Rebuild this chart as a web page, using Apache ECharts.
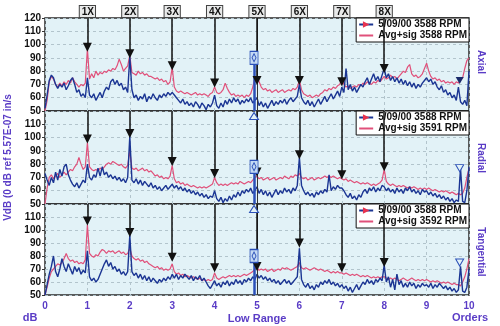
<!DOCTYPE html>
<html><head><meta charset="utf-8">
<script src="https://cdn.jsdelivr.net/npm/echarts@6/dist/echarts.min.js"></script>
<style>html,body{margin:0;padding:0;background:#fff}#c{width:500px;height:326px}</style>
</head><body><div id="c"></div>
<script>
// ---------- data ----------
const orderStep = 0.05;
const xTickLabels = ['0','1','2','3','4','5','6','7','8','9','10'];
const harmonicLabels = ['1X','2X','3X','4X','5X','6X','7X','8X'];
const panelNames = ['Axial','Radial','Tangential'];
const blueName = '5/09/00 3588 RPM';
const pinkNames = ['Avg+sig 3588 RPM','Avg+sig 3591 RPM','Avg+sig 3592 RPM'];

const axialBlue = [
52,62,73,77,75,70,67,70,68,71,66,69,73,75,70,64,66,61,63,60,
75,62,60,63,58,61,64,60,65,68,66,72,74,70,73,69,71,66,68,64,
91,66,60,62,58,61,59,63,57,61,59,63,60,58,62,60,63,61,64,62,
64,62,60,58,56,59,55,57,54,56,53,57,55,52,56,54,51,55,53,56,
62,54,52,56,53,58,55,59,56,60,57,59,55,58,56,59,57,60,56,58,
60,54,57,53,56,52,55,58,54,57,55,58,56,59,55,58,60,57,59,61,
70,60,57,55,58,54,57,53,56,59,55,58,61,57,60,63,59,62,65,61,
68,64,82,66,70,65,68,64,67,70,68,72,75,70,74,78,73,76,72,77,
82,75,78,73,76,72,75,71,74,70,73,69,72,68,71,67,70,68,71,73,
75,72,74,70,72,68,66,69,64,66,62,64,60,62,58,68,57,55,58,54,80];
const axialPink = [
50,58,72,76,74,70,68,71,69,72,70,73,71,75,72,70,68,70,69,71,
97,74,78,75,80,77,79,78,80,79,81,80,82,81,84,89,85,80,82,84,
92,79,78,77,80,78,79,77,78,76,76,75,74,75,73,74,72,73,70,72,
83,68,65,64,65,64,63,64,63,62,63,64,62,63,62,63,62,61,63,64,
68,64,63,64,66,71,67,64,62,63,61,62,61,62,60,62,61,63,68,75,
76,72,68,66,67,65,66,64,65,66,64,65,66,64,65,66,65,67,66,68,
73,66,63,62,61,62,60,61,62,61,63,64,66,65,67,66,68,67,69,70,
74,70,68,69,67,68,69,68,70,69,71,70,72,71,70,72,71,73,72,74,
76,74,75,77,75,76,74,76,78,80,79,83,85,78,76,77,75,76,78,82,
86,80,76,74,75,73,74,72,73,71,72,71,72,70,72,71,73,75,82,88,90];
const radialBlue = [
73,68,64,70,66,74,68,76,71,78,80,72,68,65,63,66,62,65,68,66,
80,70,68,72,70,77,71,78,72,74,70,72,69,71,68,70,67,69,66,70,
101,68,66,69,65,68,64,67,65,63,66,62,64,61,63,60,62,64,61,63,
65,62,64,61,63,60,62,59,61,58,60,57,59,56,58,55,57,54,56,55,
60,54,52,55,51,54,52,56,53,57,55,59,56,60,58,61,59,62,58,60,
63,58,61,57,60,56,59,55,58,61,57,60,58,62,59,61,58,62,60,64,
85,64,60,57,59,56,58,55,59,57,60,58,61,59,72,60,63,61,64,62,
62,60,57,55,58,54,56,53,57,55,59,61,58,62,60,63,59,62,60,64,
63,60,62,59,61,58,62,59,61,58,62,60,63,59,61,58,60,57,61,59,
60,57,59,56,58,55,57,54,56,53,55,52,54,51,53,52,77,52,51,60,78];
const radialPink = [
50,62,70,72,69,71,73,70,72,74,72,74,76,75,78,80,85,80,76,78,
96,78,76,75,76,75,77,76,78,80,81,80,82,81,80,79,80,78,77,79,
90,77,76,77,75,76,77,75,76,74,75,73,71,72,70,71,69,70,69,71,
79,69,66,67,65,66,64,65,64,63,64,63,62,63,62,63,62,63,64,65,
70,66,64,65,64,65,64,65,66,65,66,65,67,66,65,66,67,66,68,70,
71,69,70,68,69,70,68,69,70,68,69,70,69,71,70,69,71,70,72,71,
73,70,69,70,68,69,70,68,69,70,69,70,71,70,71,70,71,70,69,70,
69,68,69,67,68,67,66,67,66,65,66,65,66,65,64,65,64,65,66,68,
76,67,65,64,65,64,63,64,63,64,63,62,63,62,63,62,61,62,61,62,
61,62,61,60,61,60,59,60,59,60,59,58,59,58,57,58,57,58,62,70,77];
const tangBlue = [
50,58,66,72,80,68,64,70,78,72,68,74,70,66,72,68,71,66,69,67,
84,64,61,63,60,62,66,70,74,77,72,75,70,72,68,70,66,68,65,68,
96,68,65,67,63,66,62,65,61,64,60,63,61,59,62,60,63,61,64,62,
66,63,66,62,65,63,66,64,62,65,61,64,62,65,61,63,60,57,55,58,
61,57,59,56,60,58,61,57,60,58,62,59,61,58,62,60,63,61,64,62,
66,63,65,62,64,61,63,60,62,59,61,58,60,62,59,61,58,60,62,64,
86,62,58,56,59,55,57,54,58,56,60,58,61,59,62,58,60,57,59,56,
58,55,57,53,56,52,55,58,54,57,60,58,62,59,61,58,62,60,63,61,
73,60,64,56,62,54,66,58,61,56,59,56,60,57,59,55,58,56,59,57,
58,56,59,55,58,56,59,57,55,57,54,56,53,55,52,54,72,53,52,56,70];
const tangPink = [
50,56,63,68,70,72,74,73,75,78,82,78,76,77,75,76,74,75,74,77,
104,82,80,79,81,80,83,85,84,82,84,83,84,82,83,84,82,83,81,82,
86,80,78,77,78,76,77,75,76,74,73,72,71,72,70,71,69,70,69,70,
74,68,66,67,65,66,64,65,64,63,64,63,62,63,61,62,61,62,61,62,
67,63,62,63,64,63,64,65,64,65,64,65,64,65,66,65,66,67,68,70,
71,69,70,69,70,68,69,70,68,69,70,69,71,70,71,70,69,70,71,72,
75,71,70,71,70,69,70,71,70,69,70,69,68,69,68,67,68,67,68,67,
67,66,67,66,65,66,65,66,65,64,65,64,65,64,63,64,63,64,63,64,
64,63,62,63,62,63,62,61,62,63,62,61,62,63,62,61,62,61,62,61,
62,61,60,61,60,61,60,59,60,59,60,59,58,59,58,58,57,60,64,70,78];

const harmonicOrders = [1,2,3,4,5,6,7,8];
const arrowTipsAxial = [98,93,84,71,73,73,72,82];
const arrowTipsRadial = [99,103,82,73,74,87,72,78];
const arrowTipsTang = [107,98,79,71,72,90,71,75];
const cursorOrder = 4.93;
const cursorBoxValues = [90,78,80];
const refMarkerOrder = 9.78;
const refMarkerValues = [73,77,75];

// ---------- styling ----------
const FONT = '"Liberation Sans", Arial, sans-serif';
const PURPLE = '#5a3cc6';
const BLUE = '#1b3593';
const PINK = '#e0507a';
const BG = '#e2f2f7';
const GRIDC = '#b2c4cc';

const blues = [axialBlue, radialBlue, tangBlue];
const pinks = [axialPink, radialPink, tangPink];
const tips = [arrowTipsAxial, arrowTipsRadial, arrowTipsTang];
const toXY = arr => arr.map((v, i) => [+(i * orderStep).toFixed(2), v]);

const gridDefs = [
  {top: 18, height: 93},
  {top: 111, height: 93},
  {top: 204, height: 91}
];
const grids = gridDefs.map(g => ({
  left: 45, right: 31, top: g.top, height: g.height, show: true,
  backgroundColor: BG, borderColor: '#2a2a2a', borderWidth: 1.5,
  containLabel: false, outerBoundsMode: 'none'
}));

const xAxes = [0,1,2].map(i => ({
  type: 'value', gridIndex: i, min: 0, max: 10, interval: 1,
  position: i === 0 ? 'top' : 'bottom',
  axisLine: {show: false}, axisTick: {show: false},
  splitLine: {show: true, lineStyle: {color: GRIDC, type: [3, 3], width: 1}},
  name: i === 2 ? 'Low Range' : '',
  nameLocation: 'middle', nameGap: 18,
  nameTextStyle: {color: PURPLE, fontFamily: FONT, fontWeight: 'bold', fontSize: 11},
  axisLabel: i === 0 ? {
    show: true, margin: 1,
    formatter: v => (v >= 1 && v <= 8) ? '{b|' + harmonicLabels[v - 1] + '}' : '',
    rich: {b: {fontFamily: FONT, fontWeight: 'bold', fontSize: 10, color: '#111',
      backgroundColor: '#e9eaea', borderColor: '#444', borderWidth: 1, padding: [1, 1, 0, 2]}}
  } : i === 1 ? {show: false} : {
    show: true, margin: 6, color: PURPLE, fontFamily: FONT, fontWeight: 'bold', fontSize: 10,
    formatter: v => xTickLabels[v]
  }
}));

const yAxes = [0,1,2].map(i => ({
  type: 'value', gridIndex: i, min: 50, max: 120, interval: 10,
  axisLine: {show: false},
  axisTick: {show: true, length: 3, lineStyle: {color: '#333'}},
  splitLine: {show: true, lineStyle: {color: GRIDC, type: [3, 3], width: 1}},
  axisLabel: {color: '#111', fontFamily: FONT, fontWeight: 'bold', fontSize: 10, margin: 4,
    showMaxLabel: i === 0, showMinLabel: true},
  name: i === 1 ? 'VdB (0 dB ref 5.57E-07 in/s' : '',
  nameLocation: 'middle', nameGap: 22, nameRotate: 90,
  nameTextStyle: {color: PURPLE, fontFamily: FONT, fontWeight: 'bold', fontSize: 10}
}));

const series = [];
[0,1,2].forEach(i => {
  series.push({
    name: pinkNames[i], type: 'line', xAxisIndex: i, yAxisIndex: i,
    data: toXY(pinks[i]), symbol: 'none', showSymbol: false, silent: true,
    lineStyle: {color: PINK, width: 1.2}, itemStyle: {color: 'rgba(0,0,0,0)'}, z: 2
  });
  const arrowLines = harmonicOrders.map((h, k) => [
    {coord: [h, 120], symbol: 'none', lineStyle: {color: '#111', width: 1.5, type: 'solid'}},
    {coord: [h, tips[i][k]], symbol: 'triangle', symbolSize: [9, 9]}
  ]);
  const extraLines = [
    {xAxis: 5, symbol: 'none', lineStyle: {color: '#333', width: 1, type: 'solid'}},
    [{coord: [cursorOrder, cursorBoxValues[i]], symbol: 'none', lineStyle: {color: '#2b50b8', width: 2.5, type: 'solid'}},
     {coord: [cursorOrder, 50], symbol: 'none'}]
  ];
  const points = [
    {coord: [cursorOrder, cursorBoxValues[i]], symbol: 'rect', symbolSize: [8, 13],
      itemStyle: {color: '#c4daf4', borderColor: '#2b50b8', borderWidth: 1}},
    {coord: [cursorOrder, cursorBoxValues[i]], symbol: 'diamond', symbolSize: [4, 8],
      itemStyle: {color: 'rgba(0,0,0,0)', borderColor: '#2b50b8', borderWidth: 1}},
    {coord: [refMarkerOrder, refMarkerValues[i]], symbol: 'triangle', symbolRotate: 180, symbolSize: [8, 7],
      itemStyle: i === 0 ? {color: '#1a2a6a'} : {color: BG, borderColor: '#2b50b8', borderWidth: 1}}
  ];
  if (i < 2) points.push({coord: [cursorOrder, 50], symbol: 'triangle', symbolSize: [9, 7], symbolOffset: [0, 5],
      itemStyle: {color: BG, borderColor: '#2b50b8', borderWidth: 1}});
  series.push({
    name: blueName, type: 'line', xAxisIndex: i, yAxisIndex: i,
    data: toXY(blues[i]), symbol: 'triangle', symbolSize: 8, symbolRotate: -90, showSymbol: false, silent: true,
    lineStyle: {color: BLUE, width: 1.4}, itemStyle: {color: '#e8324e'}, z: 3,
    markLine: {silent: true, animation: false, label: {show: false}, symbol: ['none', 'none'],
      data: extraLines.concat(arrowLines)},
    markPoint: {silent: true, animation: false, label: {show: false}, data: points}
  });
});

const legends = [0,1,2].map(i => ({
  top: gridDefs[i].top, right: 31, orient: 'vertical', align: 'left',
  itemGap: 0, itemWidth: 14, itemHeight: 8, padding: [1, 2, 1, 2],
  backgroundColor: '#fff', borderColor: '#111', borderWidth: 1, borderRadius: 0,
  selectedMode: false,
  textStyle: {fontFamily: FONT, fontSize: 10, fontWeight: 'bold', color: '#111', lineHeight: 11},
  data: [blueName, pinkNames[i]]
}));

const rightLabelY = [62, 158, 252];
const graphics = panelNames.map((t, i) => ({
  type: 'text', x: 481, y: rightLabelY[i], rotation: -Math.PI / 2,
  style: {text: t, fill: PURPLE, font: 'bold 10px ' + FONT, align: 'center', verticalAlign: 'middle'}
})).concat([
  {type: 'text', x: 30, y: 318, style: {text: 'dB', fill: PURPLE, font: 'bold 11px ' + FONT, align: 'center', verticalAlign: 'middle'}},
  {type: 'text', x: 470, y: 318, style: {text: 'Orders', fill: PURPLE, font: 'bold 11px ' + FONT, align: 'center', verticalAlign: 'middle'}}
]);

const chart = echarts.init(document.getElementById('c'), null, {renderer: 'canvas'});
chart.setOption({
  animation: false,
  backgroundColor: '#fff',
  grid: grids, xAxis: xAxes, yAxis: yAxes,
  legend: legends, series: series, graphic: graphics
});
</script></body></html>
